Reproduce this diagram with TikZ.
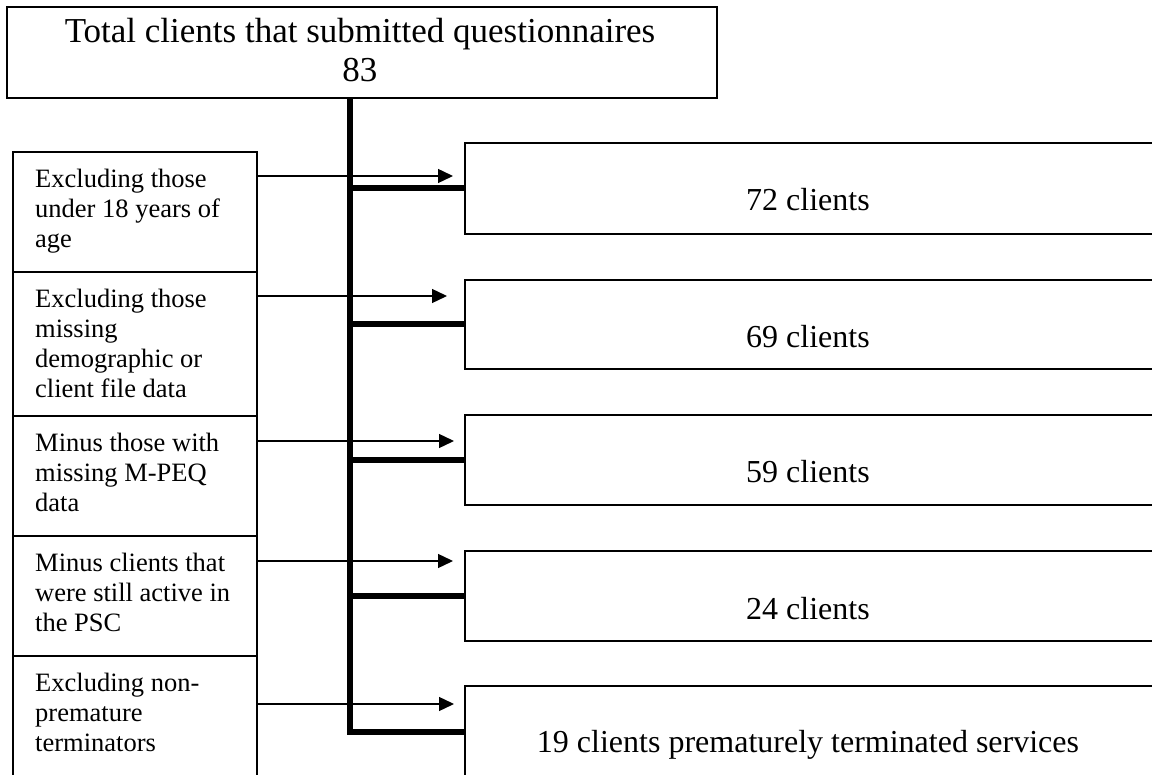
\documentclass[tikz,border=0pt]{standalone}
\usepackage{fontspec}
\setmainfont{Liberation Serif}
\usetikzlibrary{arrows.meta}
\begin{document}
\begin{tikzpicture}[x=1pt,y=-1pt,
  frame/.style={draw,line width=1.4pt,inner sep=0pt,outer sep=0pt,anchor=north west},
  thinarrow/.style={line width=1.4pt,-{Triangle[length=15pt,width=14pt]}},
  thickline/.style={line width=6pt},
  ltext/.style={anchor=north west,inner sep=0pt,align=left,font=\fontsize{26.5}{30}\selectfont},
  rtext/.style={anchor=base,inner sep=0pt,font=\fontsize{32}{38}\selectfont}]
\fill[white] (0,0) rectangle (1152,775);
\useasboundingbox (0,0) rectangle (1152,775);

% top box
\node[frame,minimum width=710pt,minimum height=91pt] (top) at (7,7) {};
\node[anchor=north,inner sep=0pt,align=center,font=\fontsize{35}{39}\selectfont] (toptxt) at (360,15) {\strut Total clients that submitted questionnaires\\83};

% left boxes
\node[frame,minimum width=244pt,minimum height=120pt] (l1) at (13,152) {};
\node[frame,minimum width=244pt,minimum height=144pt] (l2) at (13,272) {};
\node[frame,minimum width=244pt,minimum height=120pt] (l3) at (13,416) {};
\node[frame,minimum width=244pt,minimum height=120pt] (l4) at (13,536) {};
\node[frame,minimum width=244pt,minimum height=130pt] (l5) at (13,656) {};
\node[ltext] (t1) at (35,166) {\strut Excluding those\\under 18 years of\\age};
\node[ltext] (t2) at (35,286) {\strut Excluding those\\missing\\demographic or\\client file data};
\node[ltext] (t3) at (35,430) {\strut Minus those with\\missing M-PEQ\\data};
\node[ltext] (t4) at (35,550) {\strut Minus clients that\\were still active in\\the PSC};
\node[ltext] (t5) at (35,670) {\strut Excluding non-\\premature\\terminators};

% right boxes
\node[frame,minimum width=700pt,minimum height=91pt] (r1) at (465,143) {};
\node[frame,minimum width=700pt,minimum height=89pt] (r2) at (465,280) {};
\node[frame,minimum width=700pt,minimum height=90pt] (r3) at (465,415) {};
\node[frame,minimum width=700pt,minimum height=90pt] (r4) at (465,551) {};
\node[frame,minimum width=700pt,minimum height=92pt] (r5) at (465,686) {};
\node[rtext] (rt1) at (808,211) {72 clients};
\node[rtext] (rt2) at (808,348) {69 clients};
\node[rtext] (rt3) at (808,483) {59 clients};
\node[rtext] (rt4) at (808,619) {24 clients};
\node[rtext] (rt5) at (808,752) {19 clients prematurely terminated services};

% spine and branches
\coordinate (spine) at (350,0);
\draw[thickline] (top.south -| spine) |- (r5.west);
\draw[thickline] (spine |- r1.west) -- (r1.west);
\draw[thickline] (spine |- r2.west) -- (r2.west);
\draw[thickline] (spine |- r3.west) -- (r3.west);
\draw[thickline] (spine |- r4.west) -- (r4.west);

% thin arrows
\coordinate (a1) at (453,176);
\coordinate (a2) at (447,296);
\coordinate (a3) at (454,441);
\coordinate (a4) at (453,561);
\coordinate (a5) at (454,704);
\draw[thinarrow] (l1.east |- a1) -- (a1);
\draw[thinarrow] (l2.east |- a2) -- (a2);
\draw[thinarrow] (l3.east |- a3) -- (a3);
\draw[thinarrow] (l4.east |- a4) -- (a4);
\draw[thinarrow] (l5.east |- a5) -- (a5);
\end{tikzpicture}
\end{document}
